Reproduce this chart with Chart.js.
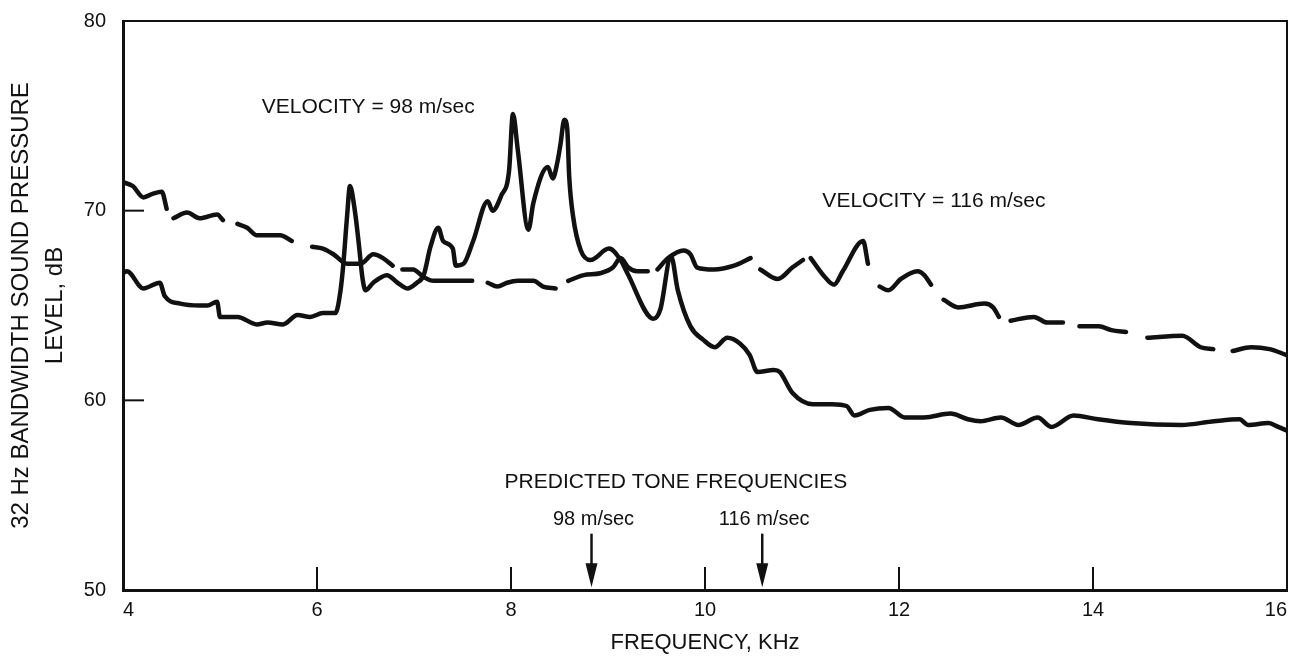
<!DOCTYPE html>
<html><head><meta charset="utf-8">
<script src="https://cdn.jsdelivr.net/npm/chart.js@4.4.1/dist/chart.umd.min.js"></script>
<style>html,body{margin:0;padding:0;background:#fff;} canvas{display:block;}</style>
</head><body>
<canvas id="c" width="1308" height="661"></canvas>
<script>
// ---- data ----
const freq98 = [4.00,4.04,4.21,4.38,4.43,4.59,4.79,4.87,4.97,5.00,5.18,5.38,5.49,5.65,5.80,5.93,6.06,6.19,
  6.24,6.27,6.31,6.34,6.39,6.43,6.47,6.50,6.58,6.72,6.83,6.93,7.03,7.10,7.17,7.25,7.30,7.40,7.43,7.51,7.61,
  7.76,7.81,7.90,7.98,8.02,8.07,8.18,8.23,8.38,8.43,8.48,8.51,8.55,8.58,8.60,8.64,8.72,8.82,9.01,9.13,9.20,
  9.47,9.54,9.65,9.72,9.85,9.98,10.10,10.23,10.36,10.46,10.54,10.71,10.77,10.90,11.11,11.31,11.46,11.54,
  11.70,11.89,12.06,12.26,12.53,12.71,12.84,13.05,13.23,13.43,13.57,13.80,14.05,14.39,14.91,15.25,15.51,
  15.60,15.81,15.91,16.00];
const level98 = [66.7,66.8,65.9,66.2,65.5,65.1,65.0,65.0,65.2,64.4,64.4,64.0,64.1,64.0,64.5,64.4,64.6,64.6,
  65.7,67.1,69.7,71.3,70.0,68.3,66.4,65.8,66.2,66.6,66.2,65.9,66.2,66.6,68.1,69.1,68.4,68.0,67.1,67.2,68.4,
  70.5,70.0,70.8,72.1,75.1,73.2,69.0,70.4,72.3,71.7,72.6,73.5,74.8,74.3,71.8,69.7,67.9,67.4,68.0,67.4,66.7,
  64.3,64.8,67.6,65.8,63.9,63.2,62.8,63.3,63.0,62.4,61.5,61.6,61.5,60.4,59.8,59.8,59.7,59.2,
  59.5,59.6,59.1,59.1,59.3,59.0,58.9,59.1,58.7,59.1,58.6,59.2,59.0,58.8,58.7,58.9,59.0,
  58.7,58.8,58.6,58.4];
// dashed curve: null entries are the gaps between dashes
const freq116 = [4.00,4.10,4.21,4.31,4.40,4.45, 4.48, 4.52,4.66,4.79,4.97,5.03, 5.10, 5.18,5.28,5.38,5.52,5.62,5.74, 5.85,
  5.95,6.06,6.17,6.31,6.45,6.58,6.68,6.78, 6.83, 6.88,6.99,7.10,7.20,7.41,7.60, 7.68, 7.76,7.86,7.96,8.07,8.23,8.33,8.46, 8.52,
  8.59,8.75,8.92,9.05,9.13,9.21,9.30,9.41, 9.46, 9.51,9.62,9.78,9.85,9.92,10.09,10.30,10.47, 10.52,
  10.57,10.75,10.90,11.01, 11.05, 11.09,11.22,11.33,11.42,11.63,11.68, 11.74, 11.80,11.89,12.02,12.19,12.26,12.33, 12.40,
  12.46,12.61,12.88,12.97,13.03, 13.09, 13.15,13.39,13.53,13.69, 13.77, 13.86,14.06,14.19,14.34, 14.45,
  14.56,14.92,15.11,15.24, 15.34, 15.44,15.63,15.82,15.99];
const level116 = [71.5,71.3,70.7,70.9,71.0,70.1, null, 69.6,69.9,69.6,69.8,69.5, null, 69.3,69.1,68.7,68.7,68.7,68.4, null,
  68.1,68.0,67.7,67.2,67.2,67.7,67.5,67.1, null, 66.9,66.9,66.5,66.3,66.3,66.3, null, 66.2,66.0,66.2,66.3,66.3,66.0,65.9, null,
  66.3,66.6,66.7,67.0,67.5,67.0,66.8,66.8, null, 66.9,67.5,67.9,67.7,67.0,66.9,67.1,67.5, null,
  66.9,66.4,67.0,67.4, null, 67.5,66.6,66.1,66.8,68.4,67.2, null, 66.0,65.8,66.4,66.8,66.6,66.1, null,
  65.3,64.9,65.1,64.9,64.4, null, 64.2,64.4,64.1,64.1, null, 63.9,63.9,63.7,63.6, null,
  63.3,63.4,62.8,62.7, null, 62.6,62.8,62.7,62.4];
const xTickValues = [4,6,8,10,12,14,16];
const yTickValues = [50,60,70,80];
const xInnerTicks = [6,8,10,12,14];
const yInnerTicks = [60,70];
const toneFreqs = [8.83, 10.59];
const toneLabels = ['98 m/sec', '116 m/sec'];
const noteTexts = ['VELOCITY = 98 m/sec', 'VELOCITY = 116 m/sec', 'PREDICTED TONE FREQUENCIES'];

// ---- annotation anchors (data coordinates) ----
const noteAnchors = [{x:5.43, y:75.45, align:'left'}, {x:11.21, y:70.49, align:'left'}, {x:9.70, y:55.69, align:'center'}];
const toneLabelLevel = 53.7, arrowTopLevel = 52.97, arrowTipLevel = 50.15;

const FONT = '"Liberation Sans", Arial, Helvetica, sans-serif';
const INK = '#111';

const decor = {
  id: 'decor',
  afterDatasetsDraw(chart) {
    const {ctx, chartArea: a, scales: {x, y}} = chart;
    ctx.save();
    ctx.strokeStyle = INK; ctx.fillStyle = INK; ctx.lineCap = 'butt';
    ctx.lineWidth = 2;
    ctx.beginPath(); ctx.moveTo(a.left, a.top); ctx.lineTo(a.right, a.top); ctx.lineTo(a.right, a.bottom); ctx.stroke();
    xInnerTicks.forEach(v => { const px = x.getPixelForValue(v); ctx.beginPath(); ctx.moveTo(px, a.bottom); ctx.lineTo(px, a.bottom - 23); ctx.stroke(); });
    yInnerTicks.forEach(v => { const py = y.getPixelForValue(v); ctx.beginPath(); ctx.moveTo(a.left, py); ctx.lineTo(a.left + 21, py); ctx.stroke(); });
    ctx.font = '21px ' + FONT; ctx.textBaseline = 'middle';
    noteTexts.forEach((t, i) => { const n = noteAnchors[i]; ctx.textAlign = n.align; ctx.fillText(t, x.getPixelForValue(n.x), y.getPixelForValue(n.y)); });
    ctx.font = '20px ' + FONT; ctx.textAlign = 'center';
    toneFreqs.forEach((f, i) => {
      const px = x.getPixelForValue(f);
      ctx.fillText(toneLabels[i], px + 2, y.getPixelForValue(toneLabelLevel));
      const top = y.getPixelForValue(arrowTopLevel), tip = y.getPixelForValue(arrowTipLevel);
      ctx.lineWidth = 2.5;
      ctx.beginPath(); ctx.moveTo(px, top); ctx.lineTo(px, tip - 20); ctx.stroke();
      ctx.beginPath(); ctx.moveTo(px - 6, tip - 24); ctx.lineTo(px + 6, tip - 24); ctx.lineTo(px, tip); ctx.closePath(); ctx.fill();
    });
    ctx.restore();
  }
};

const lineStyle = {borderColor: INK, borderWidth: 4.5, pointRadius: 0, cubicInterpolationMode: 'monotone',
  borderCapStyle: 'round', borderJoinStyle: 'round', spanGaps: false, fill: false};

new Chart(document.getElementById('c'), {
  type: 'line',
  data: {
    datasets: [
      Object.assign({label: 'VELOCITY = 98 m/sec', data: freq98.map((f, i) => ({x: f, y: level98[i]}))}, lineStyle),
      Object.assign({label: 'VELOCITY = 116 m/sec', data: freq116.map((f, i) => ({x: f, y: level116[i]}))}, lineStyle)
    ]
  },
  options: {
    responsive: false, animation: false, devicePixelRatio: 1,
    layout: {padding: {left: 0, right: 21, top: 16, bottom: 0}},
    plugins: {legend: {display: false}, tooltip: {enabled: false}},
    scales: {
      x: {
        type: 'linear', min: 4, max: 16,
        afterBuildTicks: s => { s.ticks = xTickValues.map(v => ({value: v})); },
        afterFit: s => { s.height = 71; },
        grid: {display: false}, border: {display: true, width: 3, color: INK},
        ticks: {align: 'inner', padding: 0, color: INK, font: {family: FONT, size: 20}},
        title: {display: true, text: 'FREQUENCY, KHz', color: INK, font: {family: FONT, size: 22}, padding: {top: 0, bottom: 5}}
      },
      y: {
        min: 50, max: 80,
        afterBuildTicks: s => { s.ticks = yTickValues.map(v => ({value: v})); },
        afterFit: s => { s.width = 123; },
        grid: {display: false}, border: {display: true, width: 3, color: INK},
        ticks: {padding: 9, color: INK, font: {family: FONT, size: 20}},
        title: {display: true, text: ['32 Hz BANDWIDTH SOUND PRESSURE', 'LEVEL, dB'], color: INK,
          font: {family: FONT, size: 24, lineHeight: 1.4}, padding: {top: 5, bottom: 0}}
      }
    }
  },
  plugins: [decor]
});
</script>
</body></html>
